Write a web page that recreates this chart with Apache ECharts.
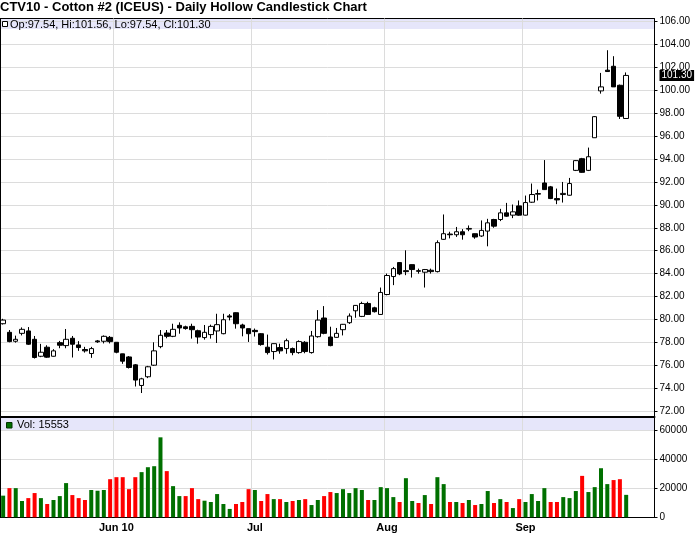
<!DOCTYPE html>
<html><head><meta charset="utf-8">
<script src="https://cdn.jsdelivr.net/npm/echarts@6/dist/echarts.min.js"></script>
<style>html,body{margin:0;padding:0;background:#fff}#c{width:700px;height:536px}</style>
</head><body><div id="c"></div>
<script>
const titleText = 'CTV10 - Cotton #2 (ICEUS) - Daily Hollow Candlestick Chart';

const dates = [
 '2010-05-05','2010-05-06','2010-05-07','2010-05-10','2010-05-11','2010-05-12','2010-05-13','2010-05-14','2010-05-17','2010-05-18',
 '2010-05-19','2010-05-20','2010-05-21','2010-05-24','2010-05-25','2010-05-26','2010-05-27','2010-05-28','2010-06-01','2010-06-02',
 '2010-06-03','2010-06-04','2010-06-07','2010-06-08','2010-06-09','2010-06-10','2010-06-11','2010-06-14','2010-06-15','2010-06-16',
 '2010-06-17','2010-06-18','2010-06-21','2010-06-22','2010-06-23','2010-06-24','2010-06-25','2010-06-28','2010-06-29','2010-06-30',
 '2010-07-01','2010-07-02','2010-07-06','2010-07-07','2010-07-08','2010-07-09','2010-07-12','2010-07-13','2010-07-14','2010-07-15',
 '2010-07-16','2010-07-19','2010-07-20','2010-07-21','2010-07-22','2010-07-23','2010-07-26','2010-07-27','2010-07-28','2010-07-29',
 '2010-07-30','2010-08-02','2010-08-03','2010-08-04','2010-08-05','2010-08-06','2010-08-09','2010-08-10','2010-08-11','2010-08-12',
 '2010-08-13','2010-08-16','2010-08-17','2010-08-18','2010-08-19','2010-08-20','2010-08-23','2010-08-24','2010-08-25','2010-08-26',
 '2010-08-27','2010-08-30','2010-08-31','2010-09-01','2010-09-02','2010-09-03','2010-09-07','2010-09-08','2010-09-09','2010-09-10',
 '2010-09-13','2010-09-14','2010-09-15','2010-09-16','2010-09-17','2010-09-20','2010-09-21','2010-09-22','2010-09-23','2010-09-24',
 '2010-09-27','2010-09-28','2010-09-29','2010-09-30'
];

const openP = [
 79.62, 78.87, 78.09, 78.78, 78.99, 78.26, 76.78, 77.57, 76.78, 77.97,
 77.71, 78.35, 77.77, 77.37, 77.02, 78.12, 78.09, 78.43, 78.00, 76.99,
 76.72, 76.03, 74.23, 74.99, 76.00, 77.62, 78.81, 78.52, 79.48, 79.35,
 79.39, 79.01, 78.41, 78.67, 78.99, 78.75, 80.30, 80.58, 79.51, 79.19,
 79.04, 78.75, 77.57, 77.19, 77.54, 77.45, 77.45, 77.10, 78.00, 77.10,
 78.49, 80.12, 78.46, 78.43, 79.10, 79.71, 80.75, 80.26, 81.39, 81.01,
 80.43, 82.17, 83.74, 84.96, 84.25, 84.78, 84.25, 84.12, 84.29, 84.17,
 86.99, 87.45, 87.39, 87.65, 87.88, 87.48, 87.28, 87.71, 88.72, 88.72,
 89.30, 89.10, 89.91, 89.10, 90.23, 90.93, 91.91, 91.57, 90.55, 90.90,
 90.84, 93.01, 94.03, 93.01, 95.86, 99.95, 101.76, 102.10, 100.44, 97.54
];
const highP = [
 80.05, 79.07, 78.58, 79.30, 79.33, 78.55, 77.86, 77.74, 77.40, 78.12,
 79.16, 78.55, 78.10, 77.60, 77.60, 78.20, 78.60, 78.55, 78.00, 77.00,
 76.80, 76.10, 74.90, 75.94, 78.00, 79.07, 79.07, 79.62, 79.74, 79.45,
 79.62, 79.10, 79.51, 79.54, 80.49, 80.49, 80.46, 80.61, 79.62, 79.20,
 79.20, 78.80, 78.67, 77.90, 77.88, 78.32, 77.54, 78.17, 78.10, 78.99,
 80.81, 81.16, 79.36, 79.25, 79.60, 80.52, 81.25, 81.54, 81.54, 81.10,
 82.78, 84.00, 84.58, 85.00, 86.03, 84.80, 84.43, 84.40, 84.43, 86.90,
 89.16, 87.65, 88.07, 87.88, 88.20, 87.50, 88.64, 88.78, 88.78, 89.65,
 90.17, 90.03, 90.38, 90.81, 91.86, 91.33, 93.91, 91.65, 91.42, 92.00,
 92.35, 93.90, 94.10, 95.00, 97.75, 101.52, 103.50, 102.98, 100.50, 101.56
];
const lowP = [
 79.55, 78.00, 77.97, 78.60, 77.77, 76.58, 76.70, 76.64, 76.75, 77.48,
 77.48, 76.67, 77.25, 77.10, 76.64, 77.95, 77.90, 77.90, 77.04, 76.12,
 75.71, 74.14, 73.57, 74.87, 75.94, 77.48, 78.35, 78.45, 78.75, 79.10,
 78.32, 77.88, 78.23, 78.32, 77.94, 78.70, 79.91, 79.19, 78.52, 78.03,
 78.50, 77.70, 76.93, 76.50, 77.00, 77.00, 76.87, 77.00, 77.04, 77.01,
 78.40, 78.70, 77.65, 78.40, 78.60, 79.60, 80.14, 80.20, 80.38, 80.60,
 80.40, 82.10, 82.99, 83.86, 83.86, 83.65, 83.99, 82.78, 84.00, 84.10,
 86.95, 87.07, 87.20, 86.96, 87.70, 87.04, 87.20, 86.38, 88.00, 88.58,
 88.95, 88.84, 89.05, 89.07, 90.17, 90.38, 91.30, 90.50, 90.06, 90.20,
 90.80, 92.95, 92.80, 92.95, 95.86, 99.71, 101.60, 100.30, 97.50, 97.54
];
const closeP = [
 79.94, 78.06, 78.26, 79.13, 77.83, 76.67, 77.13, 76.70, 77.25, 77.74,
 78.26, 77.83, 77.54, 77.25, 77.45, 78.04, 78.52, 78.06, 77.13, 76.35,
 75.80, 74.70, 74.81, 75.86, 77.25, 78.61, 78.52, 79.13, 79.25, 79.20,
 79.10, 78.46, 78.87, 79.39, 79.54, 79.97, 80.20, 79.62, 79.25, 78.75,
 78.93, 77.80, 77.10, 77.88, 77.25, 78.14, 77.10, 78.06, 77.19, 78.55,
 79.94, 78.78, 77.71, 78.78, 79.57, 80.29, 81.22, 81.39, 80.43, 80.67,
 82.35, 83.83, 84.43, 83.97, 84.17, 84.35, 84.20, 84.35, 84.17, 86.70,
 87.48, 87.39, 87.65, 87.39, 87.94, 87.19, 87.77, 88.43, 88.14, 89.30,
 89.01, 89.39, 89.10, 90.20, 90.90, 90.99, 91.33, 90.55, 90.43, 91.00,
 91.86, 93.86, 92.84, 94.20, 97.70, 100.30, 101.64, 100.30, 97.73, 101.30
];
const volume = [
 15000, 20200, 20200, 11300, 13300, 16800, 13300, 9200, 12000, 14700,
 23700, 15400, 13300, 12000, 18900, 18400, 18900, 26400, 27800, 27800,
 19500, 27800, 31300, 34700, 35400, 55400, 32000, 21600, 14700, 14700,
 20200, 12600, 11500, 10600, 16100, 9200, 5800, 9200, 10600, 19500,
 18900, 11300, 16100, 12600, 12600, 10600, 11300, 12000, 12600, 8500,
 12000, 14700, 17500, 16800, 19500, 16800, 20200, 18900, 12000, 12000,
 20900, 20200, 14000, 10600, 27100, 11300, 9900, 15400, 9200, 27800,
 23000, 10600, 10600, 9900, 12000, 8500, 9200, 18200, 9900, 12600,
 10600, 6400, 12600, 10600, 16100, 11300, 20200, 10600, 10600, 14000,
 13300, 18200, 28700, 17500, 20900, 34000, 23000, 25800, 26400, 15553
];

const monthTickDates = ['2010-06-01', '2010-07-01', '2010-08-02', '2010-09-01'];
const monthTickLabels = ['Jun 10', 'Jul', 'Aug', 'Sep'];

const GREEN = '#007000', RED = '#ff0000', GRID = '#dcdcdc', BAND = '#e6e6fa';
const FONT = '"Liberation Sans", Arial, sans-serif';
const last = closeP.length - 1;

const candleData = dates.map((d, i) => i < closeP.length ? [openP[i], closeP[i], lowP[i], highP[i]] : '-');
const volData = dates.map((d, i) => i < volume.length ? {
  value: volume[i],
  itemStyle: { color: (i === 0 || closeP[i] >= closeP[i - 1]) ? GREEN : RED }
} : '-');

const isMonth = (idx, val) => monthTickDates.indexOf(val) >= 0;
const XL = -3, XW = 657.5;

function xAx(gridIndex, extra) {
  return Object.assign({
    type: 'category', gridIndex, data: dates, boundaryGap: true,
    axisLine: { show: false, onZero: false }, axisTick: { show: false },
    axisLabel: { show: false }, splitLine: { show: false }
  }, extra || {});
}
function frameY(gridIndex) {
  return { type: 'value', gridIndex, min: 0, max: 1, position: 'right',
    axisLine: { show: true, lineStyle: { color: '#000', width: 1 } },
    axisTick: { show: false }, axisLabel: { show: false }, splitLine: { show: false } };
}

const chart = echarts.init(document.getElementById('c'), null, { renderer: 'canvas' });
chart.setOption({
  animation: false,
  backgroundColor: '#fff',
  grid: [
    { left: XL, width: XW, top: 18.5, height: 398, show: true, borderColor: '#000', borderWidth: 1, backgroundColor: 'transparent' },
    { left: XL, width: XW, top: 21.6, height: 389.4 },
    { left: XL, width: XW, top: 430.7, height: 86.6 },
    { left: XL, width: XW, top: 418, height: 99.3 }
  ],
  xAxis: [
    xAx(0, { axisLine: { show: true, onZero: false, lineStyle: { color: '#000', width: 2 } },
             splitLine: { show: true, interval: isMonth, lineStyle: { color: GRID, width: 1 } } }),
    xAx(1),
    xAx(2),
    xAx(3, { axisLine: { show: true, onZero: false, lineStyle: { color: '#000', width: 1 } },
             splitLine: { show: true, interval: isMonth, lineStyle: { color: GRID, width: 1 } },
             axisLabel: { show: true, interval: isMonth, margin: 5, fontSize: 11, fontWeight: 'bold', color: '#000', fontFamily: FONT,
               formatter: v => { const k = monthTickDates.indexOf(v); return k >= 0 ? monthTickLabels[k] : ''; } } })
  ],
  yAxis: [
    frameY(0),
    { type: 'value', gridIndex: 1, min: 72, max: 106, interval: 2, position: 'right',
      axisLine: { show: false }, axisTick: { show: true, length: 3, lineStyle: { color: '#000' } },
      axisLabel: { margin: 5, fontSize: 10, color: '#000', fontFamily: FONT, formatter: v => v.toFixed(2) },
      splitLine: { show: true, lineStyle: { color: GRID, width: 1 } } },
    { type: 'value', gridIndex: 2, min: 0, max: 60000, interval: 20000, position: 'right',
      axisLine: { show: false }, axisTick: { show: true, length: 3, lineStyle: { color: '#000' } },
      axisLabel: { margin: 5, fontSize: 10, color: '#000', fontFamily: FONT, formatter: v => String(v) },
      splitLine: { show: true, lineStyle: { color: GRID, width: 1 } } },
    frameY(3)
  ],
  series: [
    { type: 'candlestick', xAxisIndex: 1, yAxisIndex: 1, data: candleData, barWidth: 5,
      itemStyle: { color: '#fff', color0: '#000', borderColor: '#000', borderColor0: '#000', borderWidth: 1 },
      markLine: { silent: true, symbol: 'none', animation: false,
        lineStyle: { color: 'transparent', width: 1 },
        data: [{ yAxis: closeP[last] }],
        label: { show: true, position: 'end', distance: 5, formatter: closeP[last].toFixed(2),
          color: '#fff', backgroundColor: '#000', padding: [1, 2, 0, 2], fontSize: 10, fontFamily: FONT } } },
    { type: 'bar', xAxisIndex: 2, yAxisIndex: 2, data: volData, barWidth: 4 }
  ],
  graphic: [
    { type: 'rect', z: -10, shape: { x: 0, y: 19, width: 654, height: 10 }, style: { fill: BAND } },
    { type: 'rect', z: -10, shape: { x: 0, y: 418, width: 654, height: 12.5 }, style: { fill: BAND } },
    { type: 'text', x: 0, y: 1, style: { text: titleText, fontSize: 13, fontWeight: 'bold', fontFamily: FONT, fill: '#000', verticalAlign: 'top' } },
    { type: 'rect', z: 50, shape: { x: 2.5, y: 21.5, width: 5, height: 5 }, style: { fill: '#fff', stroke: '#000', lineWidth: 1 } },
    { type: 'text', z: 50, x: 10, y: 24.5, style: {
        text: 'Op:' + openP[last].toFixed(2) + ', Hi:' + highP[last].toFixed(2) + ', Lo:' + lowP[last].toFixed(2) + ', Cl:' + closeP[last].toFixed(2),
        fontSize: 11, fontFamily: FONT, fill: '#000', verticalAlign: 'middle' } },
    { type: 'rect', z: 50, shape: { x: 6.5, y: 422.5, width: 5.5, height: 5.5 }, style: { fill: GREEN, stroke: '#003300', lineWidth: 1 } },
    { type: 'text', z: 50, x: 17, y: 425, style: { text: 'Vol: ' + volume[last], fontSize: 11, fontFamily: FONT, fill: '#000', verticalAlign: 'middle' } },
    { type: 'line', z: 50, shape: { x1: 0.5, y1: 18, x2: 0.5, y2: 517.5 }, style: { stroke: '#000', lineWidth: 1 } }
  ]
});
</script>
</body></html>
